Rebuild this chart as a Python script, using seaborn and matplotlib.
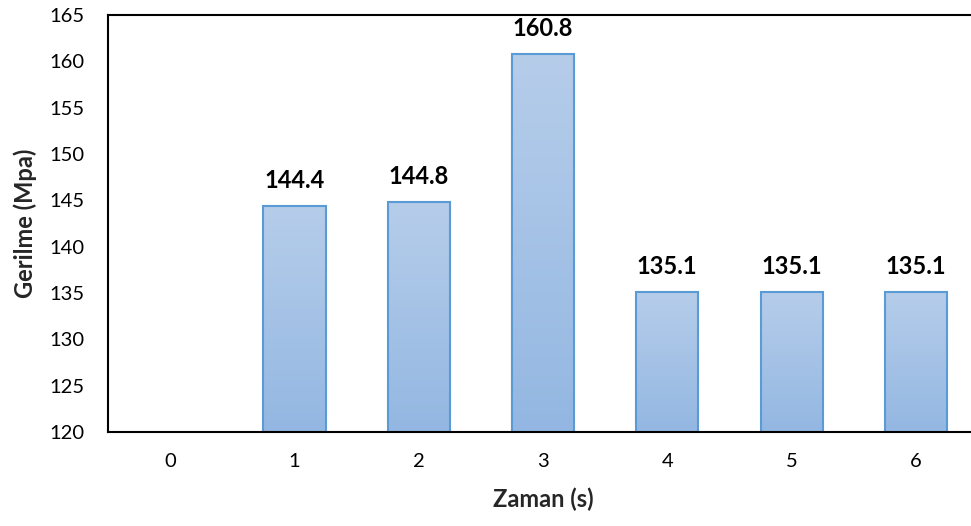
import numpy as np
import pandas as pd
import matplotlib
matplotlib.use("Agg")
import matplotlib.pyplot as plt
import seaborn as sns
from matplotlib.colors import LinearSegmentedColormap

# Stress values over time
zaman = ["0", "1", "2", "3", "4", "5", "6"]
gerilme = [np.nan, 144.4, 144.8, 160.8, 135.1, 135.1, 135.1]
yticks = [120, 125, 130, 135, 140, 145, 150, 155, 160, 165]

sns.set_theme(style="white")
plt.rcParams["font.family"] = ["Lato", "DejaVu Sans"]

df = pd.DataFrame({"Zaman": zaman, "Gerilme": gerilme})

fig = plt.figure(figsize=(9.71, 5.26), dpi=100)
ax = fig.add_axes([108 / 971, 1 - 432 / 526, (978 - 108) / 971, (432 - 15) / 526])

sns.barplot(data=df, x="Zaman", y="Gerilme", ax=ax, width=0.5,
            color="#A7C2E6", edgecolor="#5B9BD5", linewidth=1.5)

ax.set_ylim(120, 165)
ax.set_xlim(-0.5, 6.5)
ax.set_yticks(yticks)
ax.tick_params(axis="both", length=0, labelsize=14.5, colors="black")
ax.tick_params(axis="y", pad=17)
ax.tick_params(axis="x", pad=15)

# vertical gradient fill inside each bar
cmap = LinearSegmentedColormap.from_list("grad", ["#93B7E2", "#B6CDEA"])
grad = np.linspace(0, 1, 256).reshape(-1, 1)
for patch in ax.patches:
    h = patch.get_height()
    if not np.isfinite(h):
        continue
    x0 = patch.get_x()
    w = patch.get_width()
    im = ax.imshow(grad, cmap=cmap, aspect="auto", origin="lower",
                   extent=[x0, x0 + w, 120, h], zorder=patch.get_zorder() - 0.1)
    im.set_clip_path(patch)
    patch.set_facecolor("none")
    patch.set_zorder(patch.get_zorder() + 0.2)
ax.set_xlim(-0.5, 6.5)
ax.set_ylim(120, 165)

for i, v in enumerate(gerilme):
    if np.isfinite(v):
        ax.annotate(f"{v:.1f}", (i, v), xytext=(0, 10), textcoords="offset points",
                    ha="center", va="bottom", fontsize=17, fontweight="bold", color="black")

for side in ["left", "bottom", "top"]:
    ax.spines[side].set_visible(True)
    ax.spines[side].set_color("black")
    ax.spines[side].set_linewidth(1.5)
ax.spines["right"].set_visible(False)

ax.set_xlabel("Zaman (s)", fontsize=17, fontweight="bold", labelpad=13)
ax.set_ylabel("Gerilme (Mpa)", fontsize=17, fontweight="bold", labelpad=9)

fig.savefig("out.png", dpi=100)
